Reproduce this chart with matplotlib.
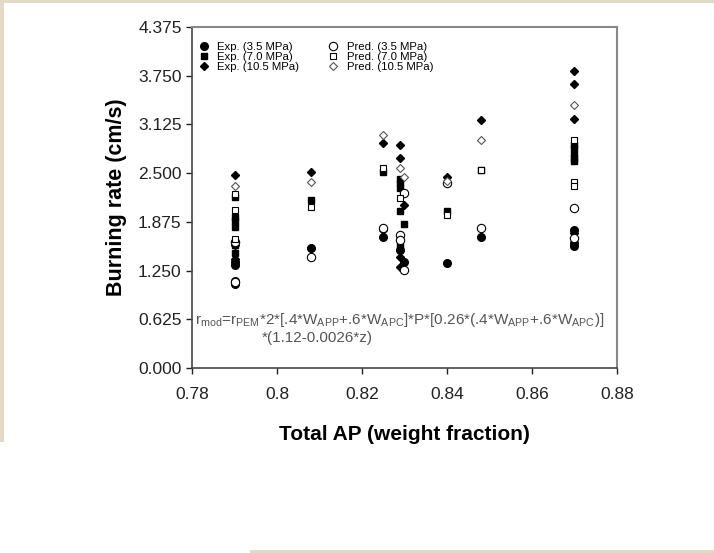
import matplotlib.pyplot as plt
from matplotlib.patches import Rectangle

plt.rcParams['font.family'] = ['Liberation Sans', 'DejaVu Sans']
plt.rcParams['mathtext.fontset'] = 'custom'
plt.rcParams['mathtext.rm'] = 'Liberation Sans'

# experimental burning rates (cm/s) vs total AP weight fraction
exp35_x = [0.79, 0.79, 0.79, 0.79, 0.808, 0.825, 0.829, 0.83, 0.84, 0.848, 0.87, 0.87, 0.87]
exp35_y = [1.36, 1.11, 1.08, 1.32, 1.54, 1.68, 1.51, 1.36, 1.35, 1.68, 1.77, 1.60, 1.56]
exp70_x = [0.79, 0.79, 0.79, 0.79, 0.79, 0.79, 0.808, 0.825, 0.829, 0.829, 0.829, 0.829,
           0.83, 0.829, 0.84, 0.848, 0.87, 0.87, 0.87, 0.87, 0.87]
exp70_y = [2.19, 1.94, 1.88, 1.81, 1.47, 1.58, 2.15, 2.51, 2.43, 2.37, 2.31, 2.01,
           1.85, 1.56, 2.01, 2.54, 2.86, 2.82, 2.75, 2.69, 2.65]
exp105_x = [0.79, 0.79, 0.79, 0.808, 0.808, 0.825, 0.825, 0.829, 0.829, 0.83, 0.829, 0.829,
            0.84, 0.848, 0.87, 0.87, 0.87, 0.87]
exp105_y = [2.47, 1.58, 1.40, 2.51, 1.54, 2.89, 1.77, 2.86, 2.70, 2.09, 1.42, 1.30,
            2.45, 3.18, 3.81, 3.65, 3.19, 1.73]

# model predictions
pred35_x = [0.79, 0.79, 0.808, 0.825, 0.83, 0.829, 0.829, 0.83, 0.84, 0.848, 0.87, 0.87]
pred35_y = [1.62, 1.10, 1.42, 1.80, 2.24, 1.71, 1.64, 1.26, 2.37, 1.79, 2.05, 1.67]
pred70_x = [0.79, 0.79, 0.79, 0.808, 0.825, 0.829, 0.84, 0.848, 0.87, 0.87, 0.87]
pred70_y = [2.23, 2.03, 1.66, 2.06, 2.56, 2.18, 1.96, 2.54, 2.93, 2.39, 2.34]
pred105_x = [0.79, 0.808, 0.825, 0.829, 0.83, 0.84, 0.848, 0.87]
pred105_y = [2.33, 2.39, 2.99, 2.56, 2.45, 2.40, 2.93, 3.38]

x_ticks = [0.78, 0.80, 0.82, 0.84, 0.86, 0.88]
x_tick_labels = ['0.78', '0.8', '0.82', '0.84', '0.86', '0.88']
y_ticks = [0.0, 0.625, 1.25, 1.875, 2.5, 3.125, 3.75, 4.375]
y_tick_labels = ['0.000', '0.625', '1.250', '1.875', '2.500', '3.125', '3.750', '4.375']

fig = plt.figure(figsize=(7.14, 5.53), dpi=100)
fig.patch.set_facecolor('white')
# beige page edges
beige = '#e2d9c9'
fig.add_artist(Rectangle((0, 0.994), 1, 0.006, transform=fig.transFigure, color=beige, lw=0))
fig.add_artist(Rectangle((0, 0.2), 0.006, 0.8, transform=fig.transFigure, color=beige, lw=0))
fig.add_artist(Rectangle((0.35, 0.0), 0.65, 0.005, transform=fig.transFigure, color=beige, lw=0))

ax = fig.add_axes([0.269, 0.3345, 0.595, 0.6167])

ms = 5.5
ax.plot(exp35_x, exp35_y, 'o', color='black', ms=ms, label='Exp. (3.5 MPa)')
ax.plot(exp70_x, exp70_y, 's', color='black', ms=ms - 0.5, label='Exp. (7.0 MPa)')
ax.plot(exp105_x, exp105_y, 'D', color='black', ms=ms - 1.5, label='Exp. (10.5 MPa)')
ax.plot(pred35_x, pred35_y, 'o', mfc='white', mec='black', mew=0.8, ms=ms + 0.5,
        label='Pred. (3.5 MPa)')
ax.plot(pred70_x, pred70_y, 's', mfc='white', mec='black', mew=0.8, ms=ms - 0.5,
        label='Pred. (7.0 MPa)')
ax.plot(pred105_x, pred105_y, 'D', mfc='white', mec='#555555', mew=0.8, ms=ms - 1.5,
        label='Pred. (10.5 MPa)')

ax.set_xlim(0.78, 0.88)
ax.set_ylim(0, 4.375)
ax.set_xticks(x_ticks)
ax.set_xticklabels(x_tick_labels)
ax.set_yticks(y_ticks)
ax.set_yticklabels(y_tick_labels)
ax.tick_params(direction='out', length=4, width=1, labelsize=12.5, colors='#222222')
ax.tick_params(axis='x', pad=10)

for side in ['left', 'bottom']:
    ax.spines[side].set_color('#444444')
    ax.spines[side].set_linewidth(1.2)
for side in ['top', 'right']:
    ax.spines[side].set_color('#888888')
    ax.spines[side].set_linewidth(1.5)

ax.set_xlabel('Total AP (weight fraction)', fontsize=15, fontweight='bold', labelpad=16)
ax.set_ylabel('Burning rate (cm/s)', fontsize=15.5, fontweight='bold', labelpad=8)

ax.legend(ncol=2, loc='upper left', frameon=False, fontsize=8.2, handlelength=1.2,
          handletextpad=0.6, columnspacing=2.4, labelspacing=0.0,
          borderaxespad=0.2, bbox_to_anchor=(-0.005, 0.975))

eq1 = (r'r$_\mathrm{mod}$=r$_\mathrm{PEM}$*2*[.4*W$_\mathrm{APP}$+.6*W$_\mathrm{APC}$]*P*'
       r'[0.26*(.4*W$_\mathrm{APP}$+.6*W$_\mathrm{APC}$)]')
ax.text(0.008, 0.142, eq1, transform=ax.transAxes, fontsize=11, color='#555555', va='center')
ax.text(0.165, 0.088, '*(1.12-0.0026*z)', transform=ax.transAxes, fontsize=11,
        color='#555555', va='center')

fig.savefig('out.png', dpi=100)
